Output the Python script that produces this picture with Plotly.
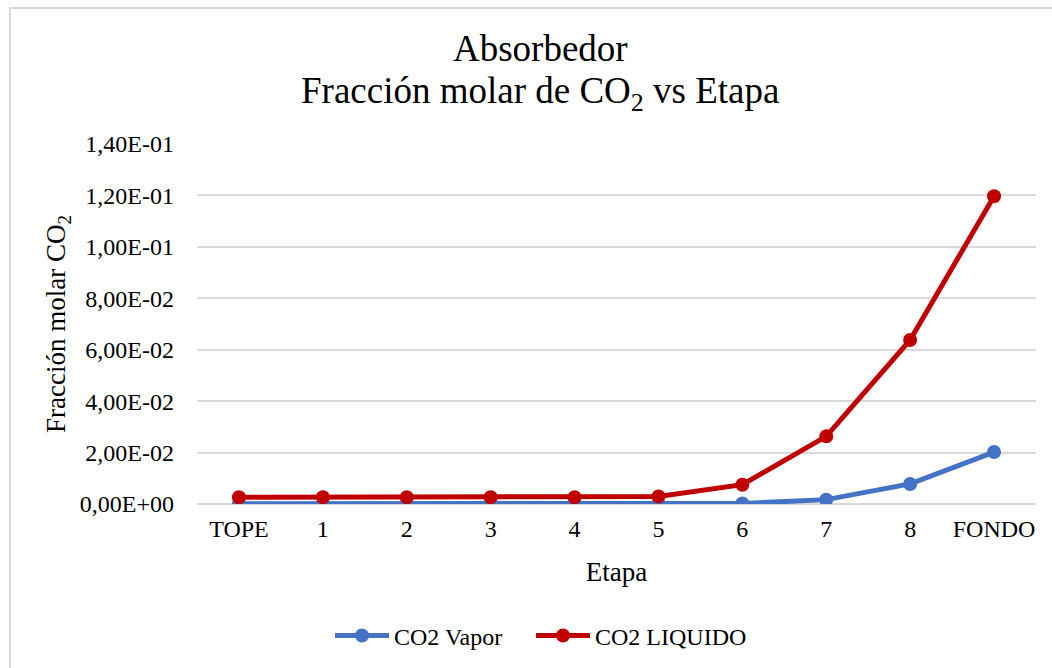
import plotly.graph_objects as go

etapas = ["TOPE", "1", "2", "3", "4", "5", "6", "7", "8", "FONDO"]
co2_vapor = [0.0001, 0.0001, 0.0001, 0.0001, 0.0001, 0.0001, 0.0002, 0.0017, 0.0078, 0.0202]
co2_liquido = [0.0026, 0.0026, 0.0026, 0.0026, 0.0026, 0.0029, 0.0075, 0.0263, 0.0638, 0.1197]
y_ticks = [0, 0.02, 0.04, 0.06, 0.08, 0.10, 0.12, 0.14]
y_ticklabels = ["0,00E+00", "2,00E-02", "4,00E-02", "6,00E-02", "8,00E-02", "1,00E-01", "1,20E-01", "1,40E-01"]
title_lines = ["Absorbedor", "Fracción molar de CO<sub>2</sub> vs Etapa"]

FONT = "Liberation Serif, Times New Roman, serif"

fig = go.Figure()
fig.add_trace(go.Scatter(x=etapas, y=co2_vapor, name="CO2 Vapor", mode="lines+markers",
                         line=dict(color="#4472C4", width=5), marker=dict(size=14, color="#4472C4"),
                         legend="legend"))
fig.add_trace(go.Scatter(x=etapas, y=co2_liquido, name="CO2 LIQUIDO", mode="lines+markers",
                         line=dict(color="#C00000", width=5), marker=dict(size=14, color="#C00000"),
                         legend="legend2"))

leg_common = dict(orientation="h", xref="container", xanchor="left",
                  y=0.048, yref="container", yanchor="middle",
                  font=dict(size=24), itemwidth=54, bgcolor="rgba(0,0,0,0)")

fig.update_layout(
    width=1052, height=668,
    margin=dict(l=197, r=16, t=144, b=164),
    paper_bgcolor="white", plot_bgcolor="white",
    font=dict(family=FONT, color="black", size=24),
    xaxis=dict(title=dict(text="Etapa", font=dict(size=27), standoff=21),
               range=[-0.5, len(etapas) - 0.5],
               showgrid=False, showline=False, ticks="", tickfont=dict(size=24),
               ticklabelstandoff=8),
    yaxis=dict(title=dict(text="Fracción molar CO<sub>2</sub>", font=dict(size=27), standoff=6),
               range=[0, 0.14], tickvals=y_ticks, ticktext=y_ticklabels,
               showgrid=True, gridcolor="#D9D9D9", gridwidth=1.5,
               zeroline=True, zerolinecolor="#D9D9D9", zerolinewidth=1.5,
               showline=False, ticks="", ticklabelstandoff=22, tickfont=dict(size=24)),
    legend=dict(x=330 / 1052, **leg_common),
    legend2=dict(x=531 / 1052, **leg_common),
    showlegend=True,
)

title_y_px = [48, 93]
for txt, py in zip(title_lines, title_y_px):
    fig.add_annotation(text=txt, xref="paper", yref="paper",
                       x=(540 - 197) / 839, y=(504 - py) / 360,
                       xanchor="center", yanchor="middle", showarrow=False,
                       font=dict(family=FONT, size=37, color="black"))

fig.add_shape(type="rect", xref="paper", yref="paper",
              x0=(10 - 197) / 839, x1=1.2, y0=-1.0, y1=(504 - 8) / 360,
              line=dict(color="#D9D9D9", width=2), fillcolor="rgba(0,0,0,0)", layer="below")

fig.write_html("out.html")
